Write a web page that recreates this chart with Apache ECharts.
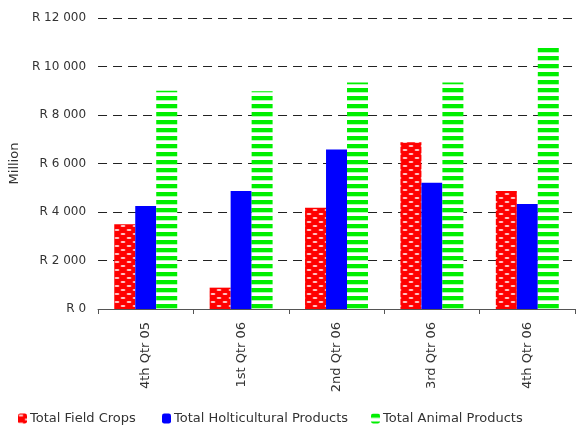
<!DOCTYPE html>
<html>
<head>
<meta charset="utf-8">
<script src="https://cdn.jsdelivr.net/npm/echarts@6/dist/echarts.min.js"></script>
<style>html,body{margin:0;padding:0;background:#fff}#c{width:585px;height:431px}</style>
</head>
<body>
<div id="c"></div>
<script>
const categories = ['4th Qtr 05', '1st Qtr 06', '2nd Qtr 06', '3rd Qtr 06', '4th Qtr 06'];
const fieldCrops = [3500, 880, 4180, 6880, 4870];
const holticultural = [4250, 4870, 6580, 5210, 4330];
const animalProducts = [9000, 8980, 9340, 9340, 10840];
const seriesNames = ['Total Field Crops', 'Total Holticultural Products', 'Total Animal Products'];

function redDots() {
  const c = document.createElement('canvas');
  c.width = 12; c.height = 8;
  const g = c.getContext('2d');
  g.fillStyle = '#ff0000'; g.fillRect(0, 0, 12, 8);
  g.fillStyle = '#ffd0d0';
  g.beginPath(); g.ellipse(3, 2, 2.5, 1, 0, 0, Math.PI * 2); g.fill();
  g.beginPath(); g.ellipse(9, 6, 2.5, 1, 0, 0, Math.PI * 2); g.fill();
  return c;
}
function greenStripes() {
  const c = document.createElement('canvas');
  c.width = 8; c.height = 8;
  const g = c.getContext('2d');
  g.fillStyle = '#ffffff'; g.fillRect(0, 0, 8, 8);
  g.fillStyle = '#00ee00'; g.fillRect(0, 0, 8, 4);
  g.fillStyle = '#b0ffb0'; g.fillRect(0, 4, 8, 1);
  return c;
}
const fmt = v => 'R ' + String(v).replace(/\B(?=(\d{3})+(?!\d))/g, ' ');
const FONT = 'DejaVu Sans';
const legendCommon = {
  bottom: 1, itemWidth: 9, itemHeight: 10, itemGap: 4,
  textStyle: {fontSize: 13, color: '#333', fontFamily: FONT, padding: [0, 0, 0, -2]}
};
const chart = echarts.init(document.getElementById('c'), null, {renderer: 'canvas'});
chart.setOption({
  animation: false,
  textStyle: {fontFamily: FONT},
  grid: {left: 96, right: 10, top: 18, bottom: 122},
  legend: [
    Object.assign({left: 13, data: [seriesNames[0]]}, legendCommon),
    Object.assign({left: 157, data: [seriesNames[1]]}, legendCommon),
    Object.assign({left: 366, data: [seriesNames[2]]}, legendCommon)
  ],
  xAxis: {
    type: 'category', data: categories,
    axisLine: {lineStyle: {color: '#555'}},
    axisTick: {show: true, length: 5, lineStyle: {color: '#555'}},
    axisLabel: {rotate: 90, fontSize: 13, color: '#333', margin: 13, fontFamily: FONT}
  },
  yAxis: {
    type: 'value', min: 0, max: 12000, interval: 2000,
    name: 'Million', nameLocation: 'middle', nameGap: 76,
    nameTextStyle: {fontSize: 13, color: '#333', fontFamily: FONT},
    axisLine: {show: false}, axisTick: {show: false},
    axisLabel: {formatter: fmt, fontSize: 12, color: '#333', margin: 12, fontFamily: FONT},
    splitLine: {lineStyle: {color: '#222', type: [9, 6], width: 1}}
  },
  series: [
    {name: seriesNames[0], type: 'bar', data: fieldCrops, barGap: '0%', barCategoryGap: '34%',
     itemStyle: {color: {image: redDots(), repeat: 'repeat'}}},
    {name: seriesNames[1], type: 'bar', data: holticultural,
     itemStyle: {color: '#0000ff'}},
    {name: seriesNames[2], type: 'bar', data: animalProducts,
     itemStyle: {color: {image: greenStripes(), repeat: 'repeat'}}}
  ]
});
</script>
</body>
</html>
